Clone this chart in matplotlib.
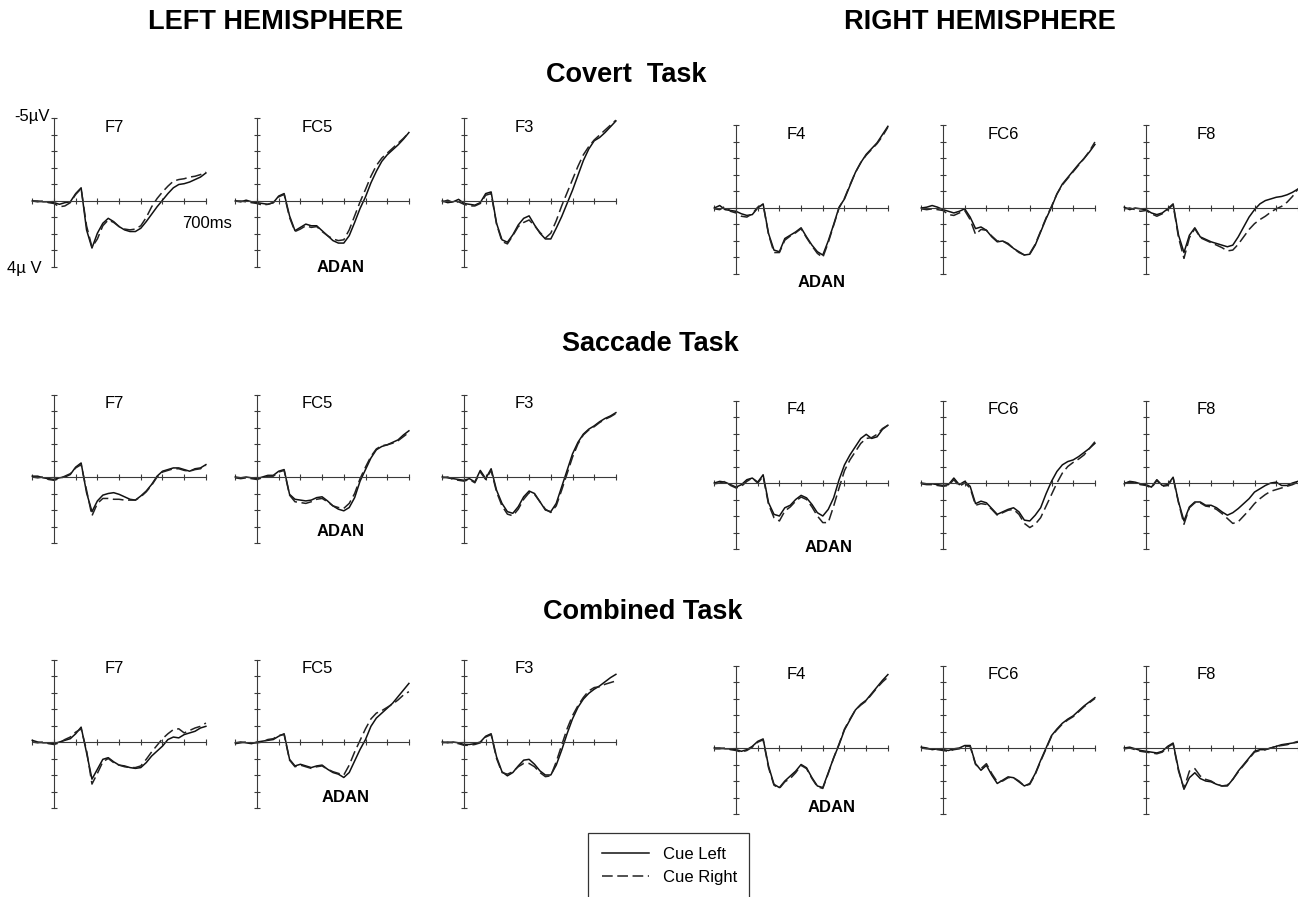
import numpy as np
import matplotlib
matplotlib.use("Agg")
import matplotlib.pyplot as plt
from matplotlib.patches import Rectangle

plt.rcParams['font.family'] = ['Liberation Sans', 'DejaVu Sans']

# time axis (ms), one sample every 25 ms
times = np.arange(-100, 701, 25)

# ---- Covert task (uV, negative up) ----
cov_F7_left = [0.0, 0.0, 0.05, 0.05, 0.1, 0.2, 0.1, 0.05, -0.45, -0.8, 1.75, 2.85, 1.95, 1.35, 1.05, 1.25, 1.55, 1.75, 1.85, 1.85, 1.65, 1.25, 0.8, 0.35, -0.05, -0.45, -0.8, -1.0, -1.05, -1.15, -1.3, -1.45, -1.7]
cov_F7_right = [0.0, 0.05, 0.0, 0.1, 0.15, 0.35, 0.3, 0.1, -0.4, -0.75, 1.5, 2.8, 2.3, 1.5, 1.15, 1.3, 1.55, 1.7, 1.75, 1.7, 1.5, 1.0, 0.35, -0.15, -0.55, -0.9, -1.2, -1.3, -1.35, -1.45, -1.5, -1.6, -1.75]
cov_FC5_left = [0.0, 0.05, -0.05, 0.05, 0.1, 0.15, 0.2, 0.1, -0.3, -0.45, 0.9, 1.8, 1.6, 1.4, 1.5, 1.5, 1.8, 2.1, 2.4, 2.55, 2.55, 2.1, 1.3, 0.45, -0.25, -1.1, -1.8, -2.4, -2.8, -3.1, -3.4, -3.75, -4.15]
cov_FC5_right = [0.0, 0.0, 0.05, 0.1, 0.15, 0.25, 0.2, 0.1, -0.25, -0.4, 1.0, 1.85, 1.7, 1.5, 1.6, 1.55, 1.85, 2.1, 2.3, 2.4, 2.35, 1.75, 0.9, 0.05, -0.7, -1.5, -2.15, -2.6, -2.9, -3.2, -3.5, -3.8, -4.15]
cov_F3_left = [0.0, 0.1, 0.05, -0.1, 0.15, 0.2, 0.25, 0.1, -0.45, -0.55, 1.35, 2.35, 2.5, 2.05, 1.45, 1.05, 0.9, 1.45, 1.95, 2.3, 2.3, 1.65, 0.95, 0.15, -0.65, -1.55, -2.45, -3.15, -3.65, -3.85, -4.15, -4.5, -4.85]
cov_F3_right = [0.05, -0.05, 0.1, 0.05, 0.2, 0.3, 0.3, 0.15, -0.35, -0.45, 1.4, 2.45, 2.6, 2.1, 1.55, 1.3, 1.15, 1.5, 1.9, 2.25, 1.95, 1.2, 0.3, -0.5, -1.3, -2.1, -2.8, -3.3, -3.7, -4.0, -4.3, -4.6, -4.9]
cov_F4_left = [0.0, -0.15, 0.1, 0.15, 0.2, 0.35, 0.45, 0.4, 0.0, -0.25, 1.55, 2.55, 2.65, 1.85, 1.65, 1.45, 1.2, 1.75, 2.25, 2.65, 2.85, 2.0, 1.0, -0.05, -0.55, -1.35, -2.15, -2.75, -3.25, -3.6, -3.95, -4.45, -4.95]
cov_F4_right = [0.05, 0.1, -0.1, 0.2, 0.3, 0.5, 0.55, 0.35, -0.05, -0.2, 1.6, 2.7, 2.7, 1.95, 1.7, 1.5, 1.25, 1.8, 2.3, 2.75, 3.0, 2.1, 1.05, 0.0, -0.6, -1.4, -2.15, -2.75, -3.2, -3.55, -3.9, -4.35, -4.9]
cov_FC6_left = [0.0, -0.05, -0.15, -0.05, 0.1, 0.2, 0.3, 0.2, 0.05, 0.55, 1.25, 1.15, 1.35, 1.75, 2.05, 2.0, 2.15, 2.45, 2.65, 2.85, 2.8, 2.25, 1.45, 0.65, -0.05, -0.85, -1.45, -1.85, -2.25, -2.65, -3.0, -3.4, -3.85]
cov_FC6_right = [0.05, 0.1, 0.05, 0.1, 0.15, 0.4, 0.45, 0.3, 0.15, 0.7, 1.6, 1.3, 1.35, 1.7, 2.0, 2.0, 2.2, 2.45, 2.7, 2.85, 2.75, 2.2, 1.4, 0.6, -0.1, -0.85, -1.4, -1.8, -2.2, -2.6, -3.0, -3.45, -4.0]
cov_F8_left = [-0.05, 0.1, 0.0, 0.05, 0.1, 0.3, 0.4, 0.3, 0.05, -0.25, 1.65, 2.7, 1.65, 1.2, 1.75, 1.9, 2.05, 2.15, 2.25, 2.35, 2.25, 1.75, 1.15, 0.55, 0.1, -0.25, -0.45, -0.55, -0.65, -0.7, -0.8, -0.95, -1.15]
cov_F8_right = [0.05, 0.0, 0.1, 0.2, 0.15, 0.35, 0.5, 0.35, 0.1, -0.2, 1.8, 3.05, 1.8, 1.25, 1.8, 1.95, 2.1, 2.25, 2.4, 2.6, 2.55, 2.2, 1.75, 1.3, 0.95, 0.7, 0.5, 0.25, 0.05, -0.1, -0.35, -0.7, -1.15]

# ---- Saccade task ----
sac_F7_left = [-0.05, -0.05, 0.05, 0.1, 0.15, 0.05, 0.0, -0.15, -0.6, -0.85, 0.95, 2.1, 1.45, 1.1, 1.0, 0.95, 1.05, 1.2, 1.35, 1.4, 1.15, 0.85, 0.45, -0.05, -0.35, -0.45, -0.55, -0.55, -0.45, -0.35, -0.5, -0.55, -0.75]
sac_F7_right = [0.0, 0.05, 0.0, 0.15, 0.2, 0.1, -0.05, -0.2, -0.55, -0.75, 0.8, 2.35, 1.6, 1.3, 1.3, 1.35, 1.35, 1.4, 1.4, 1.4, 1.2, 0.9, 0.5, 0.0, -0.3, -0.4, -0.5, -0.5, -0.4, -0.35, -0.45, -0.5, -0.7]
sac_FC5_left = [0.0, 0.05, 0.0, 0.05, 0.1, 0.0, -0.1, -0.1, -0.35, -0.45, 1.05, 1.35, 1.4, 1.45, 1.4, 1.25, 1.2, 1.45, 1.75, 1.95, 2.05, 1.85, 1.25, 0.25, -0.45, -1.15, -1.65, -1.85, -1.95, -2.1, -2.25, -2.55, -2.8]
sac_FC5_right = [0.05, 0.1, 0.05, 0.1, 0.15, 0.05, -0.05, -0.05, -0.3, -0.4, 1.1, 1.5, 1.55, 1.6, 1.5, 1.35, 1.3, 1.5, 1.75, 1.85, 1.9, 1.6, 1.0, 0.1, -0.6, -1.25, -1.7, -1.9, -1.95, -2.05, -2.2, -2.45, -2.7]
sac_F3_left = [0.0, 0.05, 0.1, 0.15, 0.2, 0.1, 0.3, -0.4, 0.1, -0.5, 0.8, 1.6, 2.1, 2.2, 1.8, 1.2, 0.85, 1.0, 1.5, 2.0, 2.1, 1.6, 0.6, -0.4, -1.4, -2.1, -2.6, -2.9, -3.1, -3.35, -3.55, -3.7, -3.9]
sac_F3_right = [0.05, 0.0, 0.15, 0.2, 0.25, 0.15, 0.35, -0.3, 0.15, -0.4, 0.9, 1.75, 2.25, 2.35, 1.95, 1.35, 0.95, 1.05, 1.5, 1.95, 2.15, 1.75, 0.8, -0.2, -1.2, -2.0, -2.55, -2.85, -3.05, -3.3, -3.5, -3.65, -3.85]
sac_F4_left = [0.0, -0.1, -0.05, 0.1, 0.25, 0.1, -0.2, -0.3, -0.05, -0.5, 1.2, 1.9, 2.0, 1.5, 1.35, 1.0, 0.75, 0.9, 1.3, 1.8, 2.0, 1.6, 0.9, -0.2, -1.1, -1.7, -2.2, -2.7, -2.95, -2.7, -2.8, -3.25, -3.5]
sac_F4_right = [0.05, 0.0, -0.1, 0.15, 0.3, 0.2, -0.1, -0.3, 0.0, -0.4, 1.3, 2.1, 2.3, 1.7, 1.45, 1.1, 0.85, 1.0, 1.45, 2.0, 2.4, 2.4, 1.4, 0.3, -0.75, -1.4, -1.9, -2.4, -2.7, -2.75, -2.95, -3.3, -3.5]
sac_FC6_left = [0.0, 0.05, 0.05, 0.1, 0.15, 0.1, -0.3, 0.1, -0.1, 0.2, 1.25, 1.1, 1.2, 1.55, 1.9, 1.75, 1.6, 1.5, 1.75, 2.25, 2.3, 1.95, 1.5, 0.65, -0.1, -0.7, -1.1, -1.3, -1.4, -1.6, -1.85, -2.1, -2.4]
sac_FC6_right = [0.05, 0.1, 0.1, 0.15, 0.2, 0.15, -0.2, 0.2, 0.0, 0.3, 1.35, 1.25, 1.3, 1.6, 1.95, 1.8, 1.65, 1.6, 1.9, 2.45, 2.7, 2.5, 2.1, 1.4, 0.7, 0.0, -0.6, -1.0, -1.25, -1.45, -1.7, -2.1, -2.5]
sac_F8_left = [0.05, -0.1, -0.05, 0.05, 0.1, 0.25, -0.2, 0.15, 0.1, -0.35, 1.15, 2.3, 1.45, 1.15, 1.15, 1.35, 1.35, 1.5, 1.75, 1.95, 1.8, 1.55, 1.25, 0.95, 0.55, 0.35, 0.15, 0.0, -0.05, 0.15, 0.15, 0.0, -0.1]
sac_F8_right = [0.0, -0.05, 0.0, 0.1, 0.15, 0.3, -0.15, 0.2, 0.15, -0.3, 1.2, 2.5, 1.5, 1.2, 1.2, 1.4, 1.45, 1.6, 1.85, 2.15, 2.45, 2.35, 2.0, 1.65, 1.25, 0.95, 0.7, 0.5, 0.4, 0.3, 0.2, 0.1, -0.05]

# ---- Combined task ----
com_F7_left = [-0.1, 0.0, 0.05, 0.05, 0.1, 0.0, -0.1, -0.2, -0.5, -0.9, 0.65, 2.25, 1.65, 1.05, 0.95, 1.2, 1.4, 1.45, 1.55, 1.6, 1.55, 1.25, 0.85, 0.55, 0.25, -0.15, -0.3, -0.25, -0.45, -0.55, -0.65, -0.85, -0.95]
com_F7_right = [0.0, 0.05, 0.0, 0.1, 0.15, 0.05, -0.15, -0.3, -0.6, -0.8, 0.5, 2.55, 1.9, 1.2, 1.0, 1.25, 1.4, 1.5, 1.55, 1.55, 1.45, 1.05, 0.6, 0.2, -0.2, -0.5, -0.75, -0.8, -0.55, -0.7, -0.85, -0.95, -1.15]
com_FC5_left = [0.05, 0.0, 0.05, 0.1, 0.0, -0.05, -0.1, -0.15, -0.35, -0.5, 1.05, 1.45, 1.35, 1.45, 1.55, 1.45, 1.4, 1.65, 1.85, 1.95, 2.15, 1.85, 1.15, 0.45, -0.15, -0.95, -1.45, -1.75, -2.05, -2.35, -2.75, -3.15, -3.55]
com_FC5_right = [0.1, 0.05, 0.0, 0.05, 0.05, 0.0, -0.15, -0.2, -0.4, -0.45, 1.1, 1.5, 1.4, 1.5, 1.6, 1.5, 1.45, 1.65, 1.8, 1.9, 2.0, 1.4, 0.6, -0.1, -0.8, -1.4, -1.75, -1.9, -2.1, -2.3, -2.55, -2.85, -3.05]
com_F3_left = [0.0, 0.05, 0.0, 0.05, 0.15, 0.15, 0.1, 0.0, -0.35, -0.5, 0.9, 1.8, 2.05, 1.85, 1.45, 1.1, 1.05, 1.35, 1.75, 2.0, 2.0, 1.4, 0.5, -0.5, -1.4, -2.1, -2.6, -2.95, -3.2, -3.4, -3.65, -3.9, -4.1]
com_F3_right = [0.05, 0.0, 0.05, 0.1, 0.2, 0.2, 0.15, 0.05, -0.3, -0.45, 1.0, 1.85, 1.95, 1.8, 1.5, 1.3, 1.3, 1.5, 1.85, 2.1, 2.05, 1.2, 0.2, -0.8, -1.6, -2.2, -2.7, -3.1, -3.3, -3.35, -3.5, -3.6, -3.7]
com_F4_left = [0.0, 0.0, 0.05, 0.05, 0.1, 0.2, 0.1, -0.1, -0.4, -0.55, 1.1, 2.2, 2.4, 2.0, 1.7, 1.4, 1.0, 1.2, 1.8, 2.3, 2.4, 1.5, 0.6, -0.2, -1.1, -1.7, -2.3, -2.65, -2.9, -3.3, -3.7, -4.1, -4.45]
com_F4_right = [0.05, 0.05, 0.0, 0.1, 0.15, 0.25, 0.15, -0.05, -0.35, -0.5, 1.2, 2.25, 2.45, 2.05, 1.85, 1.5, 1.05, 1.25, 1.85, 2.35, 2.45, 1.55, 0.6, -0.25, -1.15, -1.75, -2.3, -2.6, -2.85, -3.25, -3.65, -4.0, -4.3]
com_FC6_left = [-0.05, 0.0, 0.1, 0.05, 0.1, 0.15, 0.05, 0.0, -0.15, -0.15, 0.95, 1.35, 1.05, 1.65, 2.15, 1.95, 1.75, 1.8, 2.05, 2.3, 2.15, 1.55, 0.75, 0.0, -0.75, -1.15, -1.5, -1.75, -1.95, -2.25, -2.55, -2.8, -3.05]
com_FC6_right = [0.0, 0.05, 0.05, 0.1, 0.15, 0.2, 0.1, 0.05, -0.1, -0.1, 1.0, 1.25, 0.95, 1.55, 2.05, 2.0, 1.8, 1.8, 2.0, 2.3, 2.2, 1.6, 0.8, 0.05, -0.7, -1.1, -1.45, -1.7, -1.9, -2.2, -2.5, -2.75, -3.0]
com_F8_left = [0.0, -0.05, 0.05, 0.15, 0.2, 0.25, 0.3, 0.2, -0.1, -0.3, 1.3, 2.5, 1.8, 1.5, 1.85, 2.0, 2.05, 2.2, 2.3, 2.3, 1.9, 1.4, 1.0, 0.6, 0.2, 0.1, 0.1, 0.0, -0.1, -0.2, -0.25, -0.3, -0.35]
com_F8_right = [0.05, 0.0, 0.1, 0.2, 0.25, 0.3, 0.35, 0.25, -0.05, -0.25, 1.4, 2.45, 1.4, 1.25, 1.7, 1.9, 2.0, 2.2, 2.3, 2.25, 1.9, 1.45, 1.05, 0.65, 0.25, 0.15, 0.1, 0.0, -0.1, -0.15, -0.2, -0.3, -0.4]

electrodes = ['F7', 'FC5', 'F3', 'F4', 'FC6', 'F8']
task_names = ['Covert  Task', 'Saccade Task', 'Combined Task']
cue_left = [
    [cov_F7_left, cov_FC5_left, cov_F3_left, cov_F4_left, cov_FC6_left, cov_F8_left],
    [sac_F7_left, sac_FC5_left, sac_F3_left, sac_F4_left, sac_FC6_left, sac_F8_left],
    [com_F7_left, com_FC5_left, com_F3_left, com_F4_left, com_FC6_left, com_F8_left],
]
cue_right = [
    [cov_F7_right, cov_FC5_right, cov_F3_right, cov_F4_right, cov_FC6_right, cov_F8_right],
    [sac_F7_right, sac_FC5_right, sac_F3_right, sac_F4_right, sac_FC6_right, sac_F8_right],
    [com_F7_right, com_FC5_right, com_F3_right, com_F4_right, com_FC6_right, com_F8_right],
]
# where the "ADAN" label sits (ms, uV) for FC5 and F4 in each task
adan_fc5 = [(385, 4.05), (385, 3.3), (410, 3.35)]
adan_f4 = [(395, 4.5), (425, 3.9), (440, 3.6)]

# ---- layout (pixels) ----
W, H = 1298, 897
PX_MS = 0.217     # pixels per ms
PX_UV = 16.5      # pixels per uV
col_x = [54, 257, 464, 736, 943, 1146]    # x of the 0 ms axis
zero_left = [201, 477, 742]               # y of the 0 uV axis, left hemisphere
zero_right = [208, 483, 748]
task_y = [75, 344, 612]
task_x = [626, 650, 643]

fig = plt.figure(figsize=(W / 100, H / 100), dpi=100)
fig.patch.set_facecolor('white')


def fx(px):
    return px / W


def fy(py):
    return 1 - py / H


axis_col = '#3a3a3a'
handles = None
for r in range(3):
    for c in range(6):
        zero = zero_left[r] if c < 3 else zero_right[r]
        x0 = col_x[c]
        ax = fig.add_axes([fx(x0 - 100 * PX_MS), fy(zero + 4 * PX_UV),
                           800 * PX_MS / W, 9 * PX_UV / H])
        ax.set_facecolor('none')
        ax.set_xlim(-100, 700)
        ax.set_ylim(4, -5)
        for s in ['top', 'right']:
            ax.spines[s].set_visible(False)
        ax.spines['left'].set_position(('data', 0))
        ax.spines['bottom'].set_position(('data', 0))
        for s in ['left', 'bottom']:
            ax.spines[s].set_color(axis_col)
            ax.spines[s].set_linewidth(0.8)
        ax.set_xticks(np.arange(-100, 701, 100))
        ax.set_yticks(np.arange(-5, 5, 1))
        ax.tick_params(direction='inout', length=5, width=0.8, color=axis_col,
                       labelleft=False, labelbottom=False)
        l1, = ax.plot(times, cue_left[r][c], color='#111111', lw=1.1,
                      clip_on=False, label='Cue Left')
        l2, = ax.plot(times, cue_right[r][c], color='#222222', lw=1.1,
                      dashes=(7, 3), clip_on=False, label='Cue Right')
        if handles is None:
            handles = [l1, l2]
        ax.text(280, -4.45, electrodes[c], ha='center', va='center', fontsize=12)
        if electrodes[c] == 'FC5':
            ax.text(adan_fc5[r][0], adan_fc5[r][1], 'ADAN', ha='center', va='center',
                    fontsize=12, fontweight='bold')
        if electrodes[c] == 'F4':
            ax.text(adan_f4[r][0], adan_f4[r][1], 'ADAN', ha='center', va='center',
                    fontsize=12, fontweight='bold')
        if r == 0 and c == 0:
            ax.text(705, 1.35, '700ms', ha='center', va='center', fontsize=12)

# scale labels of the first panel
fig.text(fx(50), fy(117), '-5\u00b5V', ha='right', va='center', fontsize=12)
fig.text(fx(42), fy(268), '4\u00b5 V', ha='right', va='center', fontsize=12)

# headings
fig.text(fx(276), fy(22), 'LEFT HEMISPHERE', ha='center', va='center',
         fontsize=19.5, fontweight='bold')
fig.text(fx(980), fy(22), 'RIGHT HEMISPHERE', ha='center', va='center',
         fontsize=19.5, fontweight='bold')
for name, tx, ty in zip(task_names, task_x, task_y):
    fig.text(fx(tx), fy(ty), name, ha='center', va='center',
             fontsize=19.5, fontweight='bold')

# legend; its box runs off the bottom edge of the figure
fig.patches.append(Rectangle((fx(588), fy(915)), fx(749) - fx(588), fy(833) - fy(915),
                             transform=fig.transFigure, fill=False,
                             edgecolor='#333333', linewidth=0.9))
fig.legend(handles=handles, labels=['Cue Left', 'Cue Right'],
           loc='upper left', bbox_to_anchor=(fx(588), fy(833)),
           fontsize=12, frameon=False, borderpad=0.85, borderaxespad=0,
           handlelength=2.8, handletextpad=0.85, labelspacing=0.48)

fig.savefig('out.png', dpi=100)
